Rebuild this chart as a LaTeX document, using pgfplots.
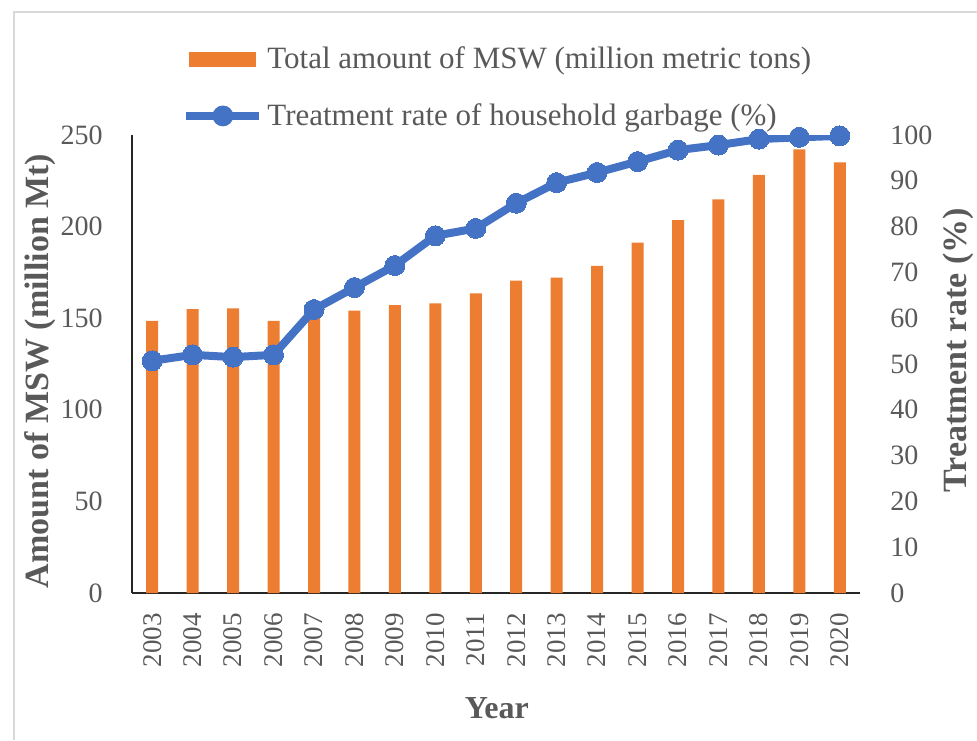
\documentclass[border=0pt]{standalone}
\usepackage{fontspec}
\setmainfont{Liberation Serif}
\usepackage{pgfplots}
\pgfplotsset{compat=1.18}
\definecolor{mswor}{HTML}{ED7D31}
\definecolor{rateblue}{HTML}{4472C4}
\definecolor{txt}{HTML}{595959}

\begin{document}
\begin{tikzpicture}
\path[use as bounding box] (0,0) rectangle (488.5pt,370pt);
\draw[black!15, line width=1pt] (7pt,0) -- (7pt,364pt) -- (488.5pt,364pt);

% bars, left axis
\begin{axis}[
  at={(66pt,73.5pt)}, anchor=south west,
  scale only axis, width=364pt, height=229pt,
  xmin=-0.5, xmax=17.5, ymin=0, ymax=250,
  axis x line*=bottom, axis y line*=left,
  axis line style={black!85, line width=1pt},
  major tick length=0pt,
  xtick={0,...,17},
  xticklabels={2003,2004,2005,2006,2007,2008,2009,2010,2011,2012,2013,2014,2015,2016,2017,2018,2019,2020},
  xticklabel style={rotate=90, anchor=east, inner sep=0pt, text=txt, font=\fontsize{13.5}{13.5}\selectfont},
  xticklabel shift=10pt,
  ytick={0,50,...,250},
  yticklabel style={inner sep=0pt, text=txt, font=\fontsize{14}{14}\selectfont},
  yticklabel shift=14.5pt,
  /pgf/number format/assume math mode=true,
  ylabel={Amount of MSW (million Mt)},
  ylabel style={at={(axis description cs:-0.126,0.485)}, anchor=center, text=txt, font=\fontsize{17}{17}\selectfont\bfseries},
  xlabel={Year},
  xlabel style={at={(axis description cs:0.501,-0.251)}, anchor=center, text=txt, font=\fontsize{16}{16}\selectfont\bfseries},
  legend style={at={(axis description cs:0.0687,1.1037)}, anchor=west, draw=none, fill=none,
    inner sep=0pt, row sep=12pt, text=txt, font=\fontsize{15.5}{15.5}\selectfont},
  legend cell align=left,
]
\addplot[ybar, bar width=6pt, fill=mswor, draw=none,
  legend image code/.code={\fill[mswor] (1.5pt,-3.75pt) rectangle (35pt,3.75pt);}]
  coordinates {
  (0,148.5) (1,154.9) (2,155.4) (3,148.5) (4,152.0) (5,154.1)
  (6,157.2) (7,158.1) (8,163.6) (9,170.5) (10,172.1) (11,178.5)
  (12,191.2) (13,203.6) (14,214.9) (15,228.2) (16,242.2) (17,235.1)
  };
\addlegendentry{Total amount of MSW (million metric tons)}
\addlegendimage{legend image code/.code={
  \draw[rateblue, line width=4pt] (0pt,0pt) -- (36.5pt,0pt);
  \fill[rateblue] (18.25pt,0pt) circle (5pt);}}
\addlegendentry{Treatment rate of household garbage (\%)}
\end{axis}

% line, right axis
\begin{axis}[
  at={(66pt,73.5pt)}, anchor=south west,
  scale only axis, width=364pt, height=229pt,
  xmin=-0.5, xmax=17.5, ymin=0, ymax=100,
  hide x axis,
  axis y line*=right,
  y axis line style={draw=none},
  major tick length=0pt,
  ytick={0,10,...,100},
  yticklabel style={anchor=west, inner sep=0pt, text=txt, font=\fontsize{14}{14}\selectfont},
  yticklabel shift=15pt,
  /pgf/number format/assume math mode=true,
  ylabel={Treatment rate (\%)},
  ylabel style={at={(axis description cs:1.1346,0.53)}, anchor=center, text=txt, font=\fontsize{17}{17}\selectfont\bfseries},
]
\addplot[rateblue, line width=4pt, mark=*, mark size=5pt,
  mark options={fill=rateblue, draw=rateblue, line width=0pt}]
  coordinates {
  (0,50.7) (1,52.0) (2,51.5) (3,52.0) (4,61.9) (5,66.7)
  (6,71.5) (7,78.0) (8,79.6) (9,85.1) (10,89.6) (11,91.8)
  (12,94.2) (13,96.7) (14,97.8) (15,99.1) (16,99.5) (17,99.8)
  };
\end{axis}
\end{tikzpicture}
\end{document}
